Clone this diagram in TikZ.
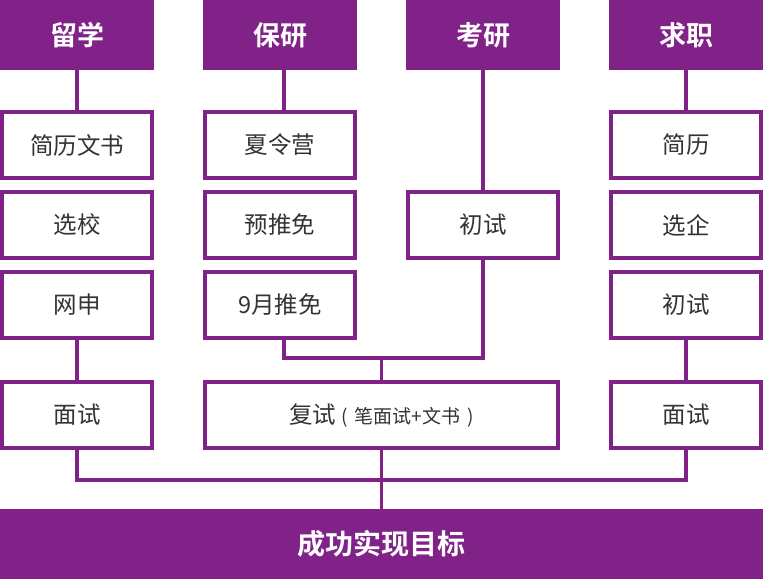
\documentclass[tikz,border=0pt]{standalone}
\usepackage{fontspec}
\newfontfamily\cjk{Noto Sans CJK SC}
\newfontfamily\cjkb{Noto Sans CJK SC Bold}
\definecolor{pur}{RGB}{128,34,135}
\definecolor{txt}{RGB}{51,51,51}
\begin{document}
\begin{tikzpicture}[x=1pt,y=-1pt,
  head/.style={fill=pur,draw=none,minimum width=154pt,minimum height=70pt,inner sep=0pt,
    text=white,font=\cjkb\fontsize{27}{31}\selectfont,anchor=north west},
  wbox/.style={draw=pur,line width=4pt,fill=white,minimum width=150pt,minimum height=66pt,
    inner sep=0pt,text=txt,font=\cjk\fontsize{23.5}{27}\selectfont},
  conn/.style={draw=pur,line width=3.5pt}]
\useasboundingbox (0,0) rectangle (763,579);
% headers
\node[head] (h1) at (0,0) {留学};
\node[head] (h2) at (203,0) {保研};
\node[head] (h3) at (406,0) {考研};
\node[head] (h4) at (609,0) {求职};
% column 1
\node[wbox] (a1) at (77,145) {简历文书};
\node[wbox] (a2) at (77,225) {选校};
\node[wbox] (a3) at (77,305) {网申};
\node[wbox] (a4) at (77,415) {面试};
% column 2
\node[wbox] (b1) at (280,145) {夏令营};
\node[wbox] (b2) at (280,225) {预推免};
\node[wbox] (b3) at (280,305) {9月推免};
% column 3
\node[wbox] (c2) at (483,225) {初试};
% column 4
\node[wbox] (d1) at (686,145) {简历};
\node[wbox] (d2) at (686,225) {选企};
\node[wbox] (d3) at (686,305) {初试};
\node[wbox] (d4) at (686,415) {面试};
% fushi
\node[wbox,minimum width=353pt] (f) at (381.5,415) {复试{\fontsize{19}{23}\selectfont\hspace{5pt}(\hspace{7pt}笔面试+文书\hspace{7pt})}};
% goal
\node[fill=pur,minimum width=763pt,minimum height=70pt,inner sep=0pt,text=white,
  font=\cjkb\fontsize{28}{32}\selectfont,anchor=north west] (g) at (0,509) {成功实现目标};
% connectors
\coordinate (j1) at (77,480);
\coordinate (j2) at (686,480);
\coordinate (k1) at (284,358);
\coordinate (k2) at (483,358);
\coordinate (k3) at (381.5,358);
\draw[conn] (h1.south -| a1.north) -- (a1.north);
\draw[conn] (a3.south) -- (a4.north);
\draw[conn] (284,70) -- (284,112);
\draw[conn] (h3.south -| c2.north) -- (c2.north);
\draw[conn] (h4.south -| d1.north) -- (d1.north);
\draw[conn] (d3.south) -- (d4.north);
\draw[conn] (284,338) -- (k1) -- (k2) -- (c2.south);
\draw[conn] (k3) -- (f.north);
\draw[conn] (a4.south) -- (j1) -- (j2) -- (d4.south);
\draw[conn] (f.south) -- (g.north -| f.south);
\end{tikzpicture}
\end{document}
